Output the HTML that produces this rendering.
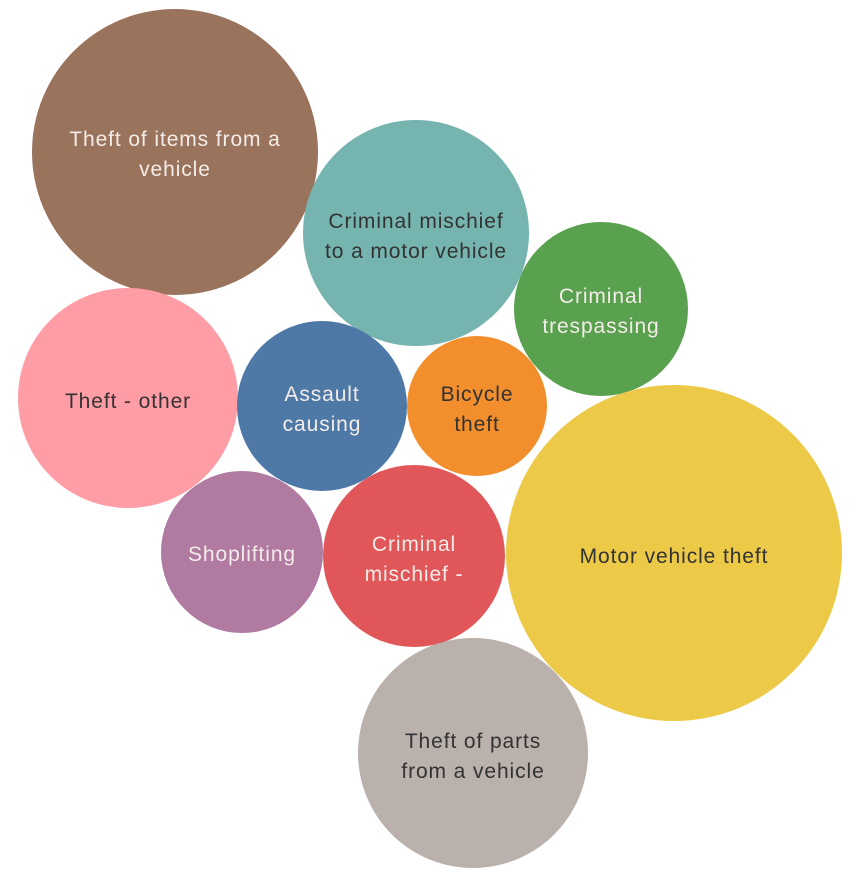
<!DOCTYPE html>
<html><head><meta charset="utf-8"><style>
html,body{margin:0;padding:0;background:#fff;}
svg text{font-family:"Liberation Sans",sans-serif;font-size:21px;letter-spacing:0.9px;text-anchor:middle;}
.l{fill:#f3ece8}.d{fill:#333}
</style></head><body>
<svg width="858" height="873" viewBox="0 0 858 873">
<circle cx="175" cy="152" r="143" fill="#9A735D"/>
<text class="l" x="175" y="146">Theft of items from a</text>
<text class="l" x="175" y="176">vehicle</text>
<circle cx="416" cy="233" r="113" fill="#76B5AF"/>
<text class="d" x="416" y="228">Criminal mischief</text>
<text class="d" x="416" y="258">to a motor vehicle</text>
<circle cx="601" cy="309" r="87" fill="#59A14F"/>
<text class="l" x="601" y="303">Criminal</text>
<text class="l" x="601" y="333">trespassing</text>
<circle cx="128" cy="398" r="110" fill="#FF9DA7"/>
<text class="d" x="128" y="408">Theft - other</text>
<circle cx="322" cy="406" r="85" fill="#4E79A7"/>
<text class="l" x="322" y="401">Assault</text>
<text class="l" x="322" y="431">causing</text>
<circle cx="477" cy="406" r="70" fill="#F28E2B"/>
<text class="d" x="477" y="401">Bicycle</text>
<text class="d" x="477" y="431">theft</text>
<circle cx="674" cy="553" r="168" fill="#EDC948"/>
<text class="d" x="674" y="563">Motor vehicle theft</text>
<circle cx="242" cy="552" r="81" fill="#B07AA1"/>
<text class="l" x="242" y="561">Shoplifting</text>
<circle cx="414" cy="556" r="91" fill="#E15759"/>
<text class="l" x="414" y="551">Criminal</text>
<text class="l" x="414" y="581">mischief -</text>
<circle cx="473" cy="753" r="115" fill="#BAB0AC"/>
<text class="d" x="473" y="748">Theft of parts</text>
<text class="d" x="473" y="778">from a vehicle</text>
</svg>
</body></html>
